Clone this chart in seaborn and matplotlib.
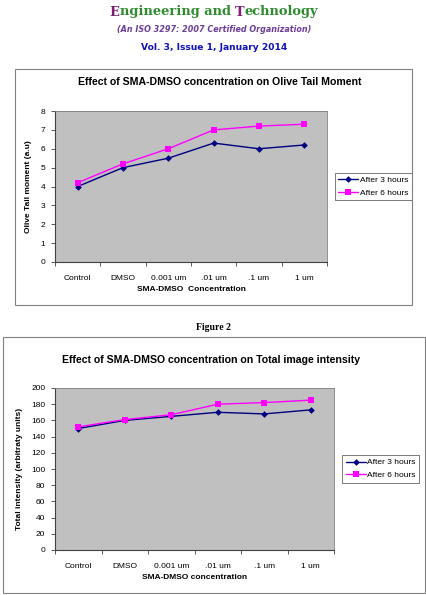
import matplotlib
matplotlib.use("Agg")
import matplotlib.pyplot as plt
import seaborn as sns
import pandas as pd
from matplotlib.patches import Rectangle
from matplotlib.ticker import FixedLocator
from matplotlib.offsetbox import TextArea, HPacker, AnchoredOffsetbox

categories = ["Control", "DMSO", "0.001 um", ".01 um", ".1 um", "1 um"]
series_names = ["After 3 hours", "After 6 hours"]
otm_3h = [4.0, 5.0, 5.5, 6.3, 6.0, 6.2]
otm_6h = [4.2, 5.2, 6.0, 7.0, 7.2, 7.3]
tii_3h = [150, 160, 165, 170, 168, 173]
tii_6h = [152, 161, 167, 180, 182, 185]
otm_ticks = [0, 1, 2, 3, 4, 5, 6, 7, 8]
tii_ticks = [0, 20, 40, 60, 80, 100, 120, 140, 160, 180, 200]

sns.set_theme(style="white")
plt.rcParams["font.family"] = ["Liberation Sans", "DejaVu Sans"]
plt.rcParams["text.color"] = "black"
plt.rcParams["axes.labelcolor"] = "black"
plt.rcParams["xtick.color"] = "black"
plt.rcParams["ytick.color"] = "black"
plt.rcParams["legend.labelcolor"] = "black"

W, H = 426, 595
fig = plt.figure(figsize=(W / 100, H / 100), dpi=100)
fig.patch.set_facecolor("white")


def px_axes(x0, y0, x1, y1):
    return fig.add_axes([x0 / W, 1 - y1 / H, (x1 - x0) / W, (y1 - y0) / H])


def box(x0, y0, x1, y1):
    fig.patches.append(Rectangle((x0 / W, 1 - y1 / H), (x1 - x0) / W, (y1 - y0) / H,
                                 transform=fig.transFigure, fill=False,
                                 edgecolor="#808080", linewidth=0.8))


def make_df(a, b):
    n = len(categories)
    return pd.DataFrame({
        "pos": list(range(n)) * 2,
        "value": list(a) + list(b),
        "series": [series_names[0]] * n + [series_names[1]] * n,
    })


def draw(ax, df, yticks, ylabel, xlabel, legend_anchor):
    palette = {series_names[0]: "#000080", series_names[1]: "#FF00FF"}
    markers = {series_names[0]: "D", series_names[1]: "s"}
    sns.lineplot(data=df, x="pos", y="value", hue="series", style="series",
                 palette=palette, markers=markers, dashes=False, ax=ax,
                 linewidth=1.0, markersize=5, markeredgewidth=0)
    for line in ax.lines:
        if line.get_marker() == "D":
            line.set_markersize(3.4)
    ax.set_facecolor("#C0C0C0")
    n = len(categories)
    ax.set_xlim(-0.5, n - 0.5)
    ax.set_ylim(yticks[0], yticks[-1])
    ax.set_yticks(yticks)
    ax.set_yticklabels([str(t) for t in yticks], fontsize=6)
    ax.xaxis.set_major_locator(FixedLocator([i - 0.5 for i in range(n + 1)]))
    ax.xaxis.set_minor_locator(FixedLocator(list(range(n))))
    ax.set_xticklabels([""] * (n + 1))
    ax.set_xticklabels(categories, minor=True, fontsize=6)
    ax.tick_params(axis="x", which="major", length=3, width=0.6, color="#404040", direction="out", bottom=True)
    ax.tick_params(axis="x", which="minor", length=0, pad=9)
    ax.tick_params(axis="y", length=3, width=0.6, color="#404040", direction="out", left=True, pad=4)
    for s in ["top", "right"]:
        ax.spines[s].set_color("#808080")
        ax.spines[s].set_linewidth(0.6)
    for s in ["left", "bottom"]:
        ax.spines[s].set_color("#404040")
        ax.spines[s].set_linewidth(0.8)
    ax.set_xlabel(xlabel, fontsize=6, fontweight="bold", labelpad=3)
    ax.set_ylabel(ylabel, fontsize=6, fontweight="bold", labelpad=6)
    leg = ax.legend(loc="center left", bbox_to_anchor=legend_anchor, fontsize=6,
                    frameon=True, fancybox=False, borderpad=0.4, handlelength=2.4,
                    handletextpad=0.2, labelspacing=0.6, borderaxespad=0)
    leg.get_frame().set_edgecolor("#404040")
    leg.get_frame().set_linewidth(0.6)


# Header
header_parts = [("E", "#7B1F6E"), ("ngineering and ", "#2E8B2E"), ("T", "#7B1F6E"), ("echnology", "#2E8B2E")]
areas = [TextArea(s, textprops=dict(color=c, fontsize=9.4, fontweight="bold",
                                    family=["DejaVu Serif"])) for s, c in header_parts]
pack = HPacker(children=areas, align="baseline", pad=0, sep=0)
ab = AnchoredOffsetbox(loc="center", child=pack, frameon=False,
                       bbox_to_anchor=(214 / W, 1 - 12 / H), bbox_transform=fig.transFigure, pad=0, borderpad=0)
fig.add_artist(ab)
fig.text(214 / W, 1 - 30 / H, "(An ISO 3297: 2007 Certified Organization)", ha="center", va="center",
         fontsize=5.8, fontweight="bold", style="italic", color="#6A3D9A", family=["DejaVu Sans"])
fig.text(214 / W, 1 - 47 / H, "Vol. 3, Issue 1, January 2014", ha="center", va="center",
         fontsize=6.6, fontweight="bold", color="#1010C0", family=["DejaVu Sans"])

# Chart 1
box(15, 69, 412, 305)
fig.text(220 / W, 1 - 82 / H, "Effect of SMA-DMSO concentration on Olive Tail Moment",
         ha="center", va="center", fontsize=7.6, fontweight="bold")
ax1 = px_axes(55, 111, 327, 262)
draw(ax1, make_df(otm_3h, otm_6h), otm_ticks, "Olive Tail moment (a.u)", "SMA-DMSO  Concentration",
     (1.03, 0.5))

fig.text(213 / W, 1 - 327 / H, "Figure 2", ha="center", va="center", fontsize=7,
         fontweight="bold", family=["Liberation Serif"])

# Chart 2
box(3, 337, 425, 593)
fig.text(211 / W, 1 - 360 / H, "Effect of SMA-DMSO concentration on Total image intensity",
         ha="center", va="center", fontsize=7.6, fontweight="bold")
ax2 = px_axes(55, 388, 334, 550)
draw(ax2, make_df(tii_3h, tii_6h), tii_ticks, "Total intensity (arbitraty units)", "SMA-DMSO concentration",
     (1.03, 0.5))

fig.savefig("out.png", dpi=100, facecolor="white")
